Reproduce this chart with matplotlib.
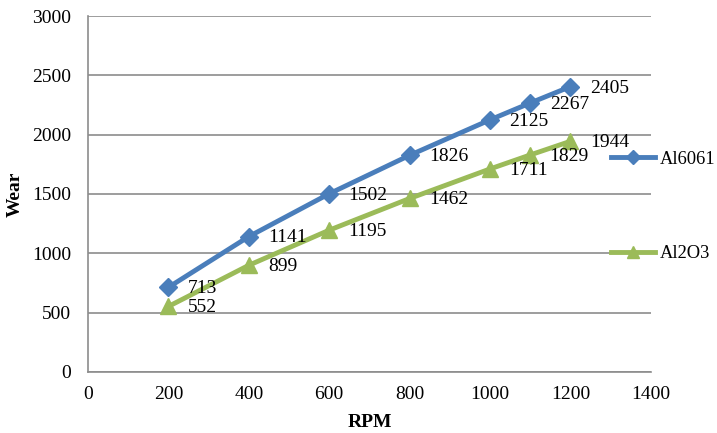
import matplotlib.pyplot as plt

plt.rcParams['font.family'] = ['Liberation Serif', 'DejaVu Serif']

rpm = [200, 400, 600, 800, 1000, 1100, 1200]
al6061 = [713, 1141, 1502, 1826, 2125, 2267, 2405]
al2o3 = [552, 899, 1195, 1462, 1711, 1829, 1944]

fig = plt.figure(figsize=(7.17, 4.33), dpi=100)
ax = fig.add_axes([0.1227, 0.141, 0.785, 0.822])

ax.plot(rpm, al6061, color='#4A7EBB', lw=3.5, marker='D', ms=9.5, label='Al6061', zorder=3)
ax.plot(rpm, al2o3, color='#9BBB59', lw=3.5, marker='^', ms=11, label='Al2O3', zorder=3)

# data labels to the right of each point
for x, y in zip(rpm, al6061):
    ax.annotate(str(y), (x, y), xytext=(14, -1), textcoords='offset points',
                ha='left', va='center', fontsize=14)
for x, y in zip(rpm, al2o3):
    ax.annotate(str(y), (x, y), xytext=(14, -1), textcoords='offset points',
                ha='left', va='center', fontsize=14)

ax.set_xlim(0, 1400)
ax.set_ylim(0, 3000)
ax.set_xticks(range(0, 1401, 200))
ax.set_yticks(range(0, 3001, 500))
ax.tick_params(labelsize=14, length=0)
ax.tick_params(axis='y', pad=12)
ax.tick_params(axis='x', pad=10)
ax.yaxis.grid(True, color='#8c8c8c', lw=1.2)
ax.set_axisbelow(True)
for s in ['top', 'right']:
    ax.spines[s].set_visible(False)
for s in ['left', 'bottom']:
    ax.spines[s].set_color('#8c8c8c')
    ax.spines[s].set_linewidth(1.2)

ax.set_xlabel('RPM', fontsize=14, fontweight='bold', labelpad=8)
ax.set_ylabel('Wear', fontsize=14, fontweight='bold', labelpad=6)

leg = ax.legend(loc='center left', bbox_to_anchor=(0.852, 0.523),
                bbox_transform=fig.transFigure, frameon=False, fontsize=13.3,
                borderpad=0, borderaxespad=0, labelspacing=4.2,
                handlelength=2.4, handletextpad=0.25, markerscale=0.75)

fig.savefig('out.png', dpi=100)
